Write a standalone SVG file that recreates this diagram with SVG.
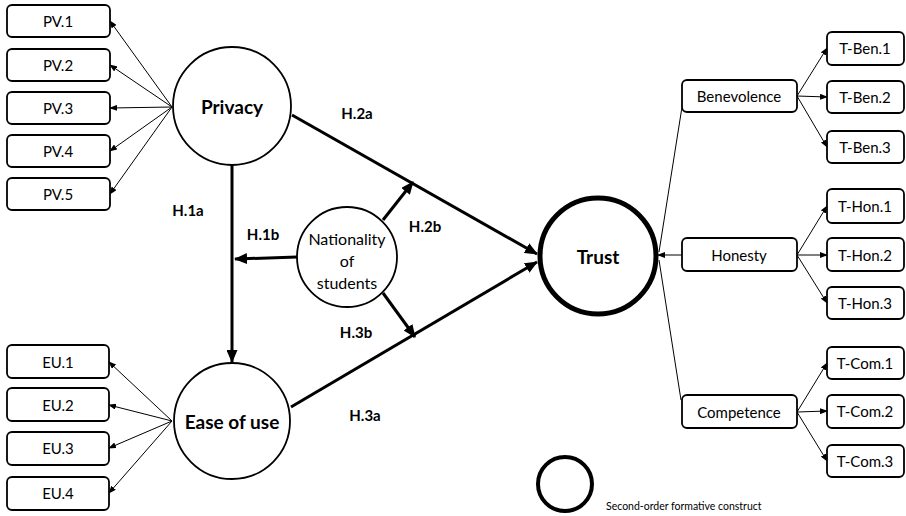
<svg xmlns="http://www.w3.org/2000/svg" width="906" height="516" viewBox="0 0 906 516">
<style>
text{font-family:Lato,"Liberation Sans",sans-serif;fill:#000;text-anchor:middle;dominant-baseline:central}
.box{fill:#fff;stroke:#000;stroke-width:1.8}
.c{fill:#fff;stroke:#000;stroke-width:1.8}
.lbl{font-size:15px}
.big{font-size:19px;font-weight:bold}
.h{font-size:15px;font-weight:bold}
.thin{stroke:#000;stroke-width:1;fill:none;marker-end:url(#ah)}
.thickA{stroke:#000;stroke-width:3;fill:none;marker-end:url(#AH)}
</style>
<defs>
<marker id="ah" markerUnits="userSpaceOnUse" markerWidth="8" markerHeight="6" refX="7" refY="3" orient="auto"><path d="M0,0 L8,3 L0,6 z" fill="#000"/></marker>
<marker id="AH" markerUnits="userSpaceOnUse" markerWidth="13" markerHeight="11" refX="12" refY="5.5" orient="auto"><path d="M0,0 L13,5.5 L0,11 z" fill="#000"/></marker>
</defs>
<g id="connectors">
<line class="thin" x1="172" y1="107" x2="110" y2="21"/>
<line class="thin" x1="172" y1="107" x2="110" y2="65"/>
<line class="thin" x1="172" y1="107" x2="110" y2="108"/>
<line class="thin" x1="172" y1="107" x2="110" y2="151"/>
<line class="thin" x1="172" y1="107" x2="110" y2="194"/>
<line class="thin" x1="172" y1="421" x2="109" y2="362"/>
<line class="thin" x1="172" y1="421" x2="109" y2="405"/>
<line class="thin" x1="172" y1="421" x2="109" y2="448"/>
<line class="thin" x1="172" y1="421" x2="109" y2="493"/>
<line class="thickA" x1="232" y1="165" x2="232" y2="362"/>
<line class="thickA" x1="292" y1="115" x2="537" y2="254"/>
<line class="thickA" x1="291" y1="407" x2="537" y2="262"/>
<line class="thickA" x1="297" y1="257" x2="235" y2="259"/>
<line class="thickA" x1="383" y1="220" x2="413" y2="182"/>
<line class="thickA" x1="383" y1="293" x2="415" y2="337"/>
<line class="thin" x1="682" y1="255" x2="658" y2="255"/>
<line x1="682" y1="107" x2="659" y2="252" stroke="#000" stroke-width="1"/>
<line x1="681" y1="400" x2="659" y2="260" stroke="#000" stroke-width="1"/>
<line class="thin" x1="797" y1="96" x2="827" y2="48"/>
<line class="thin" x1="797" y1="96" x2="827" y2="97"/>
<line class="thin" x1="797" y1="96" x2="827" y2="147"/>
<line class="thin" x1="797" y1="255" x2="827" y2="206"/>
<line class="thin" x1="797" y1="255" x2="827" y2="255"/>
<line class="thin" x1="797" y1="255" x2="827" y2="303"/>
<line class="thin" x1="797" y1="412" x2="827" y2="363"/>
<line class="thin" x1="797" y1="412" x2="827" y2="411"/>
<line class="thin" x1="797" y1="412" x2="827" y2="461"/>
</g>
<g id="pv1"><rect class="box" x="7" y="5" width="103" height="32" rx="5"/><text class="lbl" x="58" y="21">PV.1</text></g>
<g id="pv2"><rect class="box" x="7" y="49" width="103" height="32" rx="5"/><text class="lbl" x="58" y="65">PV.2</text></g>
<g id="pv3"><rect class="box" x="7" y="92" width="103" height="32" rx="5"/><text class="lbl" x="58" y="108">PV.3</text></g>
<g id="pv4"><rect class="box" x="7" y="135" width="103" height="32" rx="5"/><text class="lbl" x="58" y="151">PV.4</text></g>
<g id="pv5"><rect class="box" x="7" y="178" width="103" height="32" rx="5"/><text class="lbl" x="58" y="194">PV.5</text></g>
<g id="eu1"><rect class="box" x="7" y="345" width="102" height="33" rx="5"/><text class="lbl" x="58" y="362">EU.1</text></g>
<g id="eu2"><rect class="box" x="7" y="388" width="102" height="33" rx="5"/><text class="lbl" x="58" y="405">EU.2</text></g>
<g id="eu3"><rect class="box" x="7" y="432" width="102" height="33" rx="5"/><text class="lbl" x="58" y="448">EU.3</text></g>
<g id="eu4"><rect class="box" x="7" y="477" width="102" height="33" rx="5"/><text class="lbl" x="58" y="493">EU.4</text></g>
<g id="privacy"><circle class="c" cx="232" cy="106" r="59"/><text class="big" x="232" y="106">Privacy</text></g>
<g id="easeofuse"><circle class="c" cx="232" cy="421" r="58"/><text class="big" x="232" y="421">Ease of use</text></g>
<g id="nationality"><circle class="c" cx="347" cy="257" r="50"/><text font-size="16" x="347" y="238">Nationality</text><text font-size="16" x="347" y="260">of</text><text font-size="16" x="347" y="282">students</text></g>
<g id="trust"><circle cx="598" cy="256" r="58" fill="#fff" stroke="#000" stroke-width="5"/><text class="big" x="598" y="256">Trust</text></g>
<g id="hyp-labels">
<text class="h" x="357" y="113">H.2a</text>
<text class="h" x="188" y="210">H.1a</text>
<text class="h" x="263" y="234">H.1b</text>
<text class="h" x="425" y="226">H.2b</text>
<text class="h" x="356" y="332">H.3b</text>
<text class="h" x="365" y="415">H.3a</text>
</g>
<g id="benevolence"><rect class="box" x="682" y="80" width="115" height="32" rx="5"/><text class="lbl" x="739" y="96">Benevolence</text></g>
<g id="honesty"><rect class="box" x="682" y="238" width="115" height="33" rx="5"/><text class="lbl" x="739" y="255">Honesty</text></g>
<g id="competence"><rect class="box" x="682" y="395" width="115" height="33" rx="5"/><text class="lbl" x="739" y="412">Competence</text></g>
<g id="tben1"><rect class="box" x="827" y="32" width="77" height="33" rx="5"/><text class="lbl" x="865" y="48">T-Ben.1</text></g>
<g id="tben2"><rect class="box" x="827" y="81" width="77" height="32" rx="5"/><text class="lbl" x="865" y="97">T-Ben.2</text></g>
<g id="tben3"><rect class="box" x="827" y="131" width="77" height="32" rx="5"/><text class="lbl" x="865" y="147">T-Ben.3</text></g>
<g id="thon1"><rect class="box" x="827" y="189" width="77" height="34" rx="5"/><text class="lbl" x="865" y="206">T-Hon.1</text></g>
<g id="thon2"><rect class="box" x="827" y="238" width="77" height="33" rx="5"/><text class="lbl" x="865" y="255">T-Hon.2</text></g>
<g id="thon3"><rect class="box" x="827" y="287" width="77" height="32" rx="5"/><text class="lbl" x="865" y="303">T-Hon.3</text></g>
<g id="tcom1"><rect class="box" x="827" y="347" width="77" height="32" rx="5"/><text class="lbl" x="865" y="363">T-Com.1</text></g>
<g id="tcom2"><rect class="box" x="827" y="395" width="77" height="33" rx="5"/><text class="lbl" x="865" y="411">T-Com.2</text></g>
<g id="tcom3"><rect class="box" x="827" y="445" width="77" height="32" rx="5"/><text class="lbl" x="865" y="461">T-Com.3</text></g>
<g id="legend"><circle cx="565" cy="484" r="27" fill="#fff" stroke="#000" stroke-width="4"/><text x="606" y="506" font-size="10.5" style="text-anchor:start">Second-order formative construct</text></g>
</svg>
